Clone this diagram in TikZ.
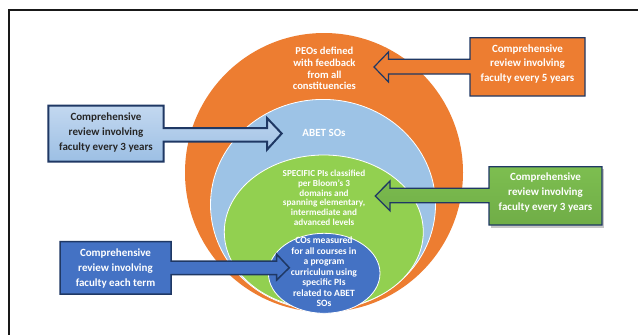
\documentclass[tikz,border=0pt]{standalone}
\usepackage{fontspec}
\setmainfont{Carlito}
\usetikzlibrary{shapes.geometric}
\definecolor{orangeC}{HTML}{ED7D31}
\definecolor{lblueC}{HTML}{9DC3E6}
\definecolor{greenC}{HTML}{92D050}
\definecolor{dblueC}{HTML}{4472C4}
\definecolor{navy}{HTML}{1F3864}
\definecolor{boxgreen}{HTML}{70AD47}
\definecolor{boxgreenT}{HTML}{7DBE50}
\definecolor{lbTop}{HTML}{C3D8F0}
\definecolor{lbBot}{HTML}{9CBFE4}
\begin{document}
\begin{tikzpicture}[x=1pt,y=-1pt]
\tikzset{
  ring/.style={ellipse, inner sep=0pt, draw=white, line width=0.8pt},
  callout/.style={draw=navy, line width=1.5pt, line join=miter},
  boxtext/.style={font=\fontsize{11}{14.7}\selectfont\bfseries, align=center, text=white, inner sep=0pt},
  ringtext/.style={align=center, text=white, inner sep=0pt}
}
\useasboundingbox (0,0) rectangle (638,335);
\fill[white] (0,0) rectangle (638,335);
% frame
\draw[line width=1.8pt, black!90] (9.2,336) -- (9.2,10.3) -- (639,10.3);

% nested ellipses
\node[ring, fill=orangeC, draw=none, minimum width=278pt, minimum height=279pt] (peo) at (324,172.5) {};
\node[ring, fill=lblueC, minimum width=225pt, minimum height=210.6pt] (so) at (323,204.7) {};
\node[ring, fill=greenC, minimum width=199pt, minimum height=154pt] (pi) at (323.8,232) {};
\node[ring, fill=dblueC, minimum width=111.6pt, minimum height=80pt] (co) at (324.2,273.3) {};

% texts in ellipses
\node[ringtext, font=\fontsize{10.6}{11.7}\selectfont\bfseries] (peoT) at (324.4,68.5)
  {PEOs defined\\with feedback\\from all\\constituencies};
\node[ringtext, font=\fontsize{11}{13}\selectfont\bfseries] (soT) at (324,132.5) {ABET SOs};
\node[ringtext, font=\fontsize{9.2}{9.8}\selectfont\bfseries] (piT) at (324,197.8)
  {SPECIFIC PIs classified\\per Bloom's 3\\domains and\\spanning elementary,\\intermediate and\\advanced levels};
\node[ringtext, font=\fontsize{9.6}{10.5}\selectfont\bfseries] (coT) at (324,272)
  {COs measured\\for all courses in\\a program\\curriculum using\\specific PIs\\related to ABET\\SOs};

% orange callout (points left)
\draw[callout, fill=orangeC, line width=1.2pt]
  (470,37.7) -- (585,37.7) -- (585,96) -- (470,96) -- (470,74) -- (388.5,74) -- (388.5,82)
  -- (374,67) -- (388.5,52) -- (388.5,59.3) -- (470,59.3) -- cycle;
\node[boxtext] (c5) at (527.5,64) {Comprehensive\\review involving\\faculty every 5 years};

% light blue callout (points right)
\draw[callout, top color=lbTop, bottom color=lbBot, line width=2pt]
  (48.3,105.5) -- (163.5,105.5) -- (163.5,128) -- (267,128) -- (267,118) -- (281.7,133.5)
  -- (267,149.7) -- (267,141.7) -- (163.5,141.7) -- (163.5,161.7) -- (48.3,161.7) -- cycle;
\node[boxtext, text=black!85] (c3a) at (106,132.5) {Comprehensive\\review involving\\faculty every 3 years};

% green callout (points left)
\fill[black!22] (491,169) rectangle (604,227.5);
\draw[callout, top color=boxgreenT, bottom color=boxgreen, line width=1.3pt]
  (489,166.7) -- (602,166.7) -- (602,225) -- (489,225) -- (489,202.7) -- (390,202.7) -- (390,210.7)
  -- (375.3,196) -- (390,181) -- (390,188.3) -- (489,188.3) -- cycle;
\node[boxtext] (c3b) at (545.5,192.5) {Comprehensive\\review involving\\faculty every 3 years};

% dark blue callout (points right)
\draw[callout, fill=dblueC, line width=1.5pt]
  (60,241.7) -- (171,241.7) -- (171,261) -- (276.7,261) -- (276.7,254.3) -- (289.3,267.7)
  -- (276.7,280) -- (276.7,274.5) -- (171,274.5) -- (171,294) -- (60,294) -- cycle;
\node[boxtext] (cterm) at (115.5,268.5) {Comprehensive\\review involving\\faculty each term};
\end{tikzpicture}
\end{document}
